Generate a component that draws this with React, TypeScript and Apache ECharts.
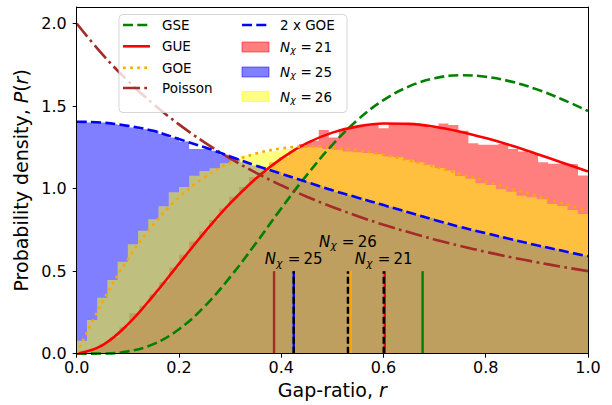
import React, { useEffect, useRef } from "react";
import * as echarts from "echarts";

// ---------------- data ----------------
const rGrid = [0, 0.05, 0.1, 0.15, 0.2, 0.25, 0.3, 0.35, 0.4, 0.45, 0.5, 0.55, 0.6, 0.65, 0.7, 0.75, 0.8, 0.85, 0.9, 0.95, 1.0];
const gseCurve = [0, 0.001, 0.014, 0.058, 0.148, 0.286, 0.464, 0.667, 0.88, 1.082, 1.265, 1.418, 1.536, 1.619, 1.668, 1.687, 1.678, 1.648, 1.601, 1.54, 1.47];
const gueCurve = [0, 0.051, 0.178, 0.352, 0.544, 0.735, 0.91, 1.06, 1.182, 1.275, 1.339, 1.377, 1.394, 1.392, 1.375, 1.345, 1.306, 1.261, 1.21, 1.157, 1.103];
const goeCurve = [0, 0.312, 0.572, 0.782, 0.946, 1.069, 1.156, 1.212, 1.243, 1.255, 1.25, 1.232, 1.205, 1.171, 1.132, 1.089, 1.045, 1.0, 0.955, 0.91, 0.866];
const poissonCurve = [2.0, 1.814, 1.653, 1.512, 1.389, 1.28, 1.183, 1.097, 1.02, 0.951, 0.889, 0.833, 0.781, 0.735, 0.692, 0.653, 0.617, 0.584, 0.554, 0.526, 0.5];
const twoGoeCurve = [1.405, 1.4, 1.38, 1.35, 1.3, 1.25, 1.195, 1.14, 1.09, 1.04, 0.99, 0.945, 0.9, 0.855, 0.81, 0.768, 0.73, 0.693, 0.657, 0.623, 0.59];

// histogram bins (start, width) and densities
const bins21 = { start: 0.025, width: 0.0195 };
const bins25 = { start: 0, width: 0.02 };
const bins26 = { start: 0, width: 0.02 };
const hist21 = [0.03, 0.06, 0.1, 0.16, 0.245, 0.29, 0.36, 0.435, 0.52, 0.6, 0.68, 0.74, 0.81, 0.88, 0.95, 1.01, 1.07, 1.1, 1.16, 1.19, 1.23, 1.27, 1.29, 1.355, 1.31, 1.36, 1.37, 1.38, 1.385, 1.365, 1.39, 1.385, 1.39, 1.38, 1.37, 1.395, 1.385, 1.35, 1.275, 1.265, 1.265, 1.27, 1.24, 1.225, 1.215, 1.16, 1.15, 1.15, 1.148, 1.08];
const hist25 = [1.41, 1.4, 1.4, 1.39, 1.385, 1.37, 1.36, 1.35, 1.33, 1.31, 1.285, 1.24, 1.24, 1.23, 1.205, 1.18, 1.16, 1.14, 1.12, 1.1, 1.08, 1.06, 1.04, 1.02, 1.0, 0.98, 0.96, 0.945, 0.925, 0.91, 0.89, 0.87, 0.855, 0.84, 0.82, 0.8, 0.785, 0.77, 0.75, 0.74, 0.72, 0.71, 0.69, 0.68, 0.665, 0.65, 0.635, 0.62, 0.61, 0.595];
const hist26 = [0.079, 0.204, 0.339, 0.446, 0.557, 0.663, 0.745, 0.814, 0.893, 0.978, 1.01, 1.078, 1.107, 1.123, 1.153, 1.17, 1.2, 1.21, 1.22, 1.23, 1.24, 1.25, 1.25, 1.25, 1.24, 1.235, 1.225, 1.22, 1.215, 1.21, 1.195, 1.19, 1.175, 1.16, 1.145, 1.125, 1.11, 1.076, 1.06, 1.032, 1.022, 0.996, 0.981, 0.957, 0.947, 0.935, 0.907, 0.895, 0.87, 0.846];

// mean gap ratios (vertical markers)
const theoryMeans = [0.386, 0.4245, 0.536, 0.6025, 0.6765]; // Poisson, 2xGOE, GOE, GUE, GSE
const sampleMeans = [0.6005, 0.4245, 0.5305]; // N=21, N=25, N=26
const meanMarkerTop = 0.5;

// annotation labels
const annotNumbers = ["25", "26", "21"];
const annotR = [0.368, 0.474, 0.544];
const annotP = [0.572, 0.678, 0.572];

const xTicks = [0, 0.2, 0.4, 0.6, 0.8, 1.0];
const yTicks = [0, 0.5, 1.0, 1.5, 2.0];

// ---------------- styling ----------------
const F = "DejaVu Sans";
const LW = 2.6;
const DASH = [10, 4.3];
const DOT = [2.7, 4.4];
const DASHDOT = [17, 4.3, 2.7, 4.3];
const C = {
  gse: "#008000",
  gue: "#ff0000",
  goe: "#ffa500",
  poisson: "#a52a2a",
  twoGoe: "#0000ff",
};
const theoryColors = [C.poisson, C.twoGoe, C.goe, C.gue, C.gse];

function stepData(values: number[], bins: { start: number; width: number }) {
  const pts = values.map((v, i) => [bins.start + i * bins.width, v]);
  pts.push([bins.start + values.length * bins.width, values[values.length - 1]]);
  return pts;
}

function histSeries(name: string, values: number[], bins: { start: number; width: number }, color: string) {
  return {
    name,
    type: "line",
    step: "end",
    z: 2,
    data: stepData(values, bins),
    symbol: "none",
    silent: true,
    lineStyle: { width: 0, opacity: 0 },
    areaStyle: { color, opacity: 0.5 },
  };
}

function curveSeries(name: string, values: number[], color: string, type: any) {
  return {
    name,
    type: "line",
    z: 3,
    data: rGrid.map((r, i) => [r, values[i]]),
    smooth: 0.4,
    symbol: "none",
    silent: true,
    lineStyle: { color, width: LW, type, cap: "butt" },
  };
}

function meanSeries(name: string, r: number, color: string, type: any, width: number, z: number) {
  return {
    name,
    type: "line",
    z,
    data: [
      [r, 0],
      [r, meanMarkerTop],
    ],
    symbol: "none",
    silent: true,
    lineStyle: { color, width, type, cap: "butt" },
  };
}

function txt(text: string, x: number, y: number, fs: number, italic: boolean) {
  return {
    type: "text",
    x,
    y,
    silent: true,
    style: {
      text,
      fill: "#000",
      fontSize: fs,
      fontFamily: F,
      fontStyle: italic ? "italic" : "normal",
      align: "left",
      verticalAlign: "middle",
    },
  };
}

function nChiChildren(num: string, fs: number) {
  return [
    txt("N", 0, 0, fs, true),
    txt("χ", fs * 0.76, fs * 0.22, fs * 0.7, true),
    txt("=", fs * 1.52, 0, fs, false),
    txt(num, fs * 2.58, 0, fs, false),
  ];
}

function withZ(el: any, z: number): any {
  const out = { ...el, z };
  if (el.children) out.children = el.children.map((c: any) => withZ(c, z));
  return out;
}

function legendElements() {
  const fs = 13.5;
  const els: any[] = [];
  els.push({
    type: "rect",
    silent: true,
    shape: { x: 119, y: 14.5, width: 228, height: 98, r: 4 },
    style: { fill: "rgba(255,255,255,0.8)", stroke: "rgba(204,204,204,0.8)", lineWidth: 1 },
  });
  const col1 = [
    { label: "GSE", color: C.gse, dash: DASH, y: 25 },
    { label: "GUE", color: C.gue, dash: null, y: 46.3 },
    { label: "GOE", color: C.goe, dash: DOT, y: 67.7 },
    { label: "Poisson", color: C.poisson, dash: DASHDOT, y: 88 },
  ];
  col1.forEach((it) => {
    els.push({
      type: "line",
      silent: true,
      shape: { x1: 123, y1: it.y, x2: 150, y2: it.y },
      style: { stroke: it.color, lineWidth: LW, lineDash: it.dash || undefined, lineCap: "butt" },
    });
    els.push(txt(it.label, 162, it.y, fs, false));
  });
  els.push({
    type: "line",
    silent: true,
    shape: { x1: 242, y1: 25, x2: 269, y2: 25 },
    style: { stroke: C.twoGoe, lineWidth: LW, lineDash: DASH, lineCap: "butt" },
  });
  els.push(txt("2 x GOE", 280, 25, fs, false));
  const col2 = [
    { num: "21", fill: "rgba(255,0,0,0.5)", y: 47 },
    { num: "25", fill: "rgba(0,0,255,0.5)", y: 72 },
    { num: "26", fill: "rgba(255,255,0,0.5)", y: 96.5 },
  ];
  col2.forEach((it) => {
    els.push({
      type: "rect",
      silent: true,
      shape: { x: 242, y: it.y - 5, width: 27, height: 10 },
      style: { fill: it.fill, stroke: it.fill, lineWidth: 1 },
    });
    els.push({ type: "group", x: 280, y: it.y, children: nChiChildren(it.num, fs) });
  });
  return els.map((e) => withZ(e, 100));
}

function buildOption() {
  const axisCommon = {
    type: "value",
    z: 10,
    splitLine: { show: false },
    axisLine: { show: true, onZero: false, lineStyle: { color: "#000", width: 1 } },
  };
  return {
    animation: false,
    grid: { left: 76.7, right: 24, top: 7, bottom: 51.3, outerBoundsMode: "none" },
    xAxis: [
      {
        ...axisCommon,
        min: 0,
        max: 1,
        interval: 0.2,
        axisTick: { show: true, length: 4, lineStyle: { color: "#000", width: 1 }, customValues: xTicks },
        axisLabel: {
          color: "#000",
          fontSize: 16,
          fontFamily: F,
          margin: 6,
          customValues: xTicks,
          formatter: (v: number) => v.toFixed(1),
        },
        name: "Gap-ratio, {i|r}",
        nameLocation: "middle",
        nameGap: 23,
        nameTextStyle: {
          color: "#000",
          fontSize: 19,
          fontFamily: F,
          rich: { i: { fontStyle: "italic", fontSize: 19, fontFamily: F, color: "#000" } },
        },
      },
      {
        ...axisCommon,
        position: "top",
        min: 0,
        max: 1,
        axisTick: { show: false },
        axisLabel: { show: false },
      },
    ],
    yAxis: [
      {
        ...axisCommon,
        min: 0,
        max: 2.1,
        interval: 0.5,
        axisTick: { show: true, length: 4, lineStyle: { color: "#000", width: 1 }, customValues: yTicks },
        axisLabel: {
          color: "#000",
          fontSize: 16,
          fontFamily: F,
          margin: 10,
          customValues: yTicks,
          formatter: (v: number) => v.toFixed(1),
        },
        name: "Probability density, {i|P}({i|r})",
        nameLocation: "middle",
        nameGap: 35,
        nameRotate: 90,
        nameTextStyle: {
          color: "#000",
          fontSize: 19,
          fontFamily: F,
          rich: { i: { fontStyle: "italic", fontSize: 19, fontFamily: F, color: "#000" } },
        },
      },
      {
        ...axisCommon,
        position: "right",
        min: 0,
        max: 2.1,
        axisTick: { show: false },
        axisLabel: { show: false },
      },
    ],
    series: [
      histSeries("N21", hist21, bins21, "#ff0000"),
      histSeries("N25", hist25, bins25, "#0000ff"),
      histSeries("N26", hist26, bins26, "#ffff00"),
      curveSeries("GSE", gseCurve, C.gse, DASH),
      curveSeries("GUE", gueCurve, C.gue, "solid"),
      curveSeries("GOE", goeCurve, C.goe, DOT),
      curveSeries("Poisson", poissonCurve, C.poisson, DASHDOT),
      curveSeries("2 x GOE", twoGoeCurve, C.twoGoe, DASH),
      ...theoryMeans.map((m, i) => meanSeries("mean-theory-" + i, m, theoryColors[i], "solid", 2.4, 4)),
      ...sampleMeans.map((m, i) => meanSeries("mean-sample-" + i, m, "#000", [7, 3], 2.4, 5)),
      {
        name: "labels",
        type: "custom",
        z: 20,
        silent: true,
        data: annotR.map((r, i) => [r, annotP[i]]),
        renderItem: (params: any, api: any) => {
          const p = api.coord([api.value(0), api.value(1)]);
          return {
            type: "group",
            x: p[0],
            y: p[1],
            children: nChiChildren(annotNumbers[params.dataIndex], 15),
          };
        },
      },
    ],
    graphic: { elements: legendElements() },
  };
}

export default function App() {
  const ref = useRef<HTMLDivElement>(null);
  useEffect(() => {
    document.body.style.margin = "0";
    const chart = echarts.init(ref.current as HTMLDivElement, undefined, { renderer: "svg" });
    chart.setOption(buildOption() as any);
    return () => {
      chart.dispose();
    };
  }, []);
  return <div ref={ref} style={{ width: 612, height: 405 }} />;
}
